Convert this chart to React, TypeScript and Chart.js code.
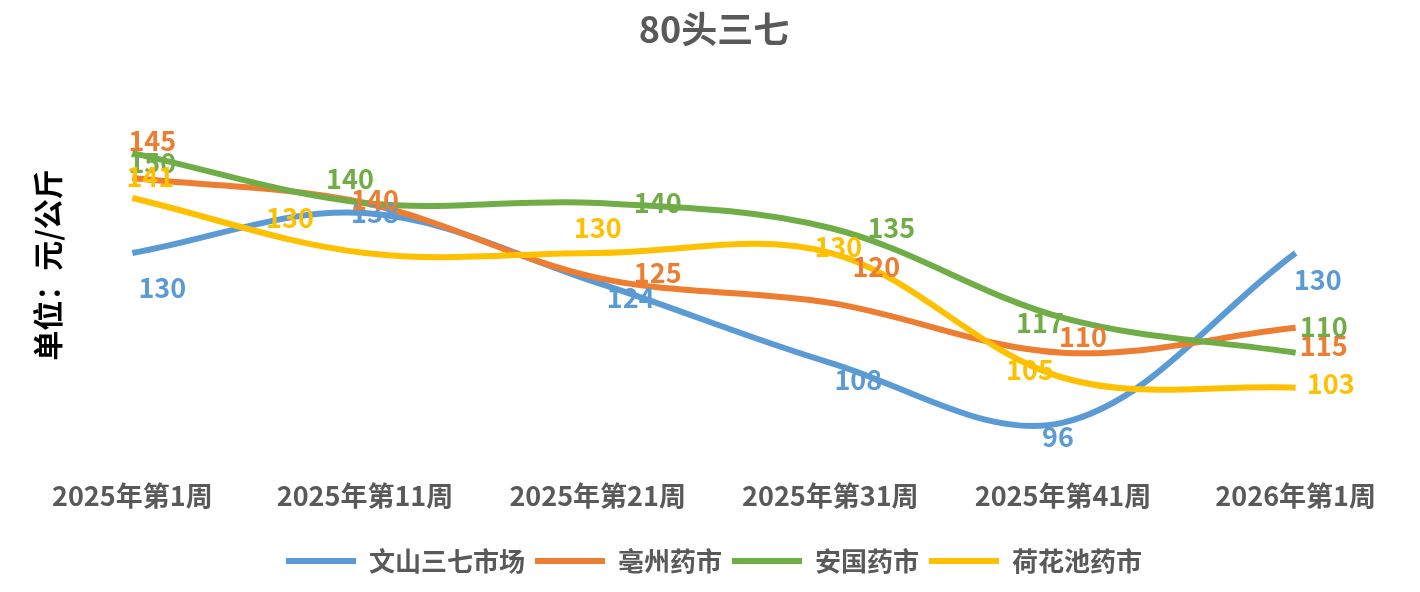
import React, { useEffect, useRef } from "react";
import { Chart, registerables } from "chart.js";
Chart.register(...registerables);

const categories = ["2025年第1周", "2025年第11周", "2025年第21周", "2025年第31周", "2025年第41周", "2026年第1周"];
const seriesNames = ["文山三七市场", "亳州药市", "安国药市", "荷花池药市"];
const wenshan = [130, 138, 124, 108, 96, 130];
const bozhou = [145, 140, 125, 120, 110, 115];
const anguo = [150, 140, 140, 135, 117, 110];
const hehuachi = [141, 130, 130, 130, 105, 103];
const colors = ["#5B9BD5", "#ED7D31", "#70AD47", "#FFC000"];
const labelOffsets = [
  [[30, 35], [10, 0], [33, 15], [28, 17], [-5, 14], [22, 27]],
  [[20, -37], [10, -3], [60, -5], [46, -36], [20, -16], [28, 18]],
  [[20, 10], [-15, -24], [60, 0], [61, 0], [-23, 5], [28, -26]],
  [[18, -21], [-75, -35], [0, -25], [8, -6], [-33, -8], [35, -4]],
];
const FONT = "'Noto Sans CJK SC', 'Noto Sans', sans-serif";

const labelPlugin = {
  id: "labels",
  afterDatasetsDraw(chart: any) {
    const ctx = chart.ctx;
    ctx.save();
    ctx.font = `bold 27px ${FONT}`;
    ctx.textAlign = "center";
    ctx.textBaseline = "middle";
    chart.data.datasets.forEach((ds: any, i: number) => {
      const meta = chart.getDatasetMeta(i);
      meta.data.forEach((pt: any, j: number) => {
        const [dx, dy] = labelOffsets[i][j];
        ctx.fillStyle = colors[i];
        ctx.fillText(String(ds.data[j]), pt.x + dx, pt.y + dy);
      });
    });
    ctx.translate(40, 257);
    ctx.rotate(-Math.PI / 2);
    ctx.fillStyle = "#000";
    ctx.font = `bold 30px ${FONT}`;
    ctx.fillText("单位：元/公斤", 0, 0);
    ctx.restore();
  },
};

export default function App() {
  const ref = useRef<HTMLCanvasElement>(null);
  useEffect(() => {
    const data = [wenshan, bozhou, anguo, hehuachi];
    const chart = new Chart(ref.current!, {
      type: "line",
      data: {
        labels: categories,
        datasets: seriesNames.map((n, i) => ({
          label: n,
          data: data[i],
          borderColor: colors[i],
          backgroundColor: colors[i],
          borderWidth: 6,
          pointRadius: 0,
          tension: 0.35,
          order: 4 - i,
        })),
      },
      options: {
        animation: false,
        responsive: false,
        layout: { padding: { left: 8, right: 0, top: 0, bottom: 0 } },
        plugins: {
          title: {
            display: true,
            text: "80头三七",
            color: "#595959",
            font: { family: FONT, size: 36, weight: "bold" },
            padding: { top: 0, bottom: 52 },
          },
          legend: {
            position: "bottom",
            labels: {
              usePointStyle: true,
              pointStyle: "line",
              pointStyleWidth: 70,
              color: "#595959",
              font: { family: FONT, size: 26, weight: "bold" },
              padding: 10,
              generateLabels: (c: any) =>
                c.data.datasets.map((ds: any, i: number) => ({
                  text: ds.label,
                  strokeStyle: colors[i],
                  fillStyle: colors[i],
                  lineWidth: 6,
                  pointStyle: "line",
                  datasetIndex: i,
                  fontColor: "#595959",
                })),
            },
          },
          tooltip: { enabled: false },
        },
        scales: {
          x: {
            offset: true,
            grid: { display: false },
            border: { display: false },
            ticks: { color: "#595959", font: { family: FONT, size: 27, weight: "bold" }, padding: 4 },
            afterFit: (s: any) => { s.height += 22; },
          },
          y: { display: false, min: 87, max: 160 },
        },
      },
      plugins: [labelPlugin],
    });
    return () => chart.destroy();
  }, []);
  return <canvas ref={ref} width={1404} height={576} />;
}
